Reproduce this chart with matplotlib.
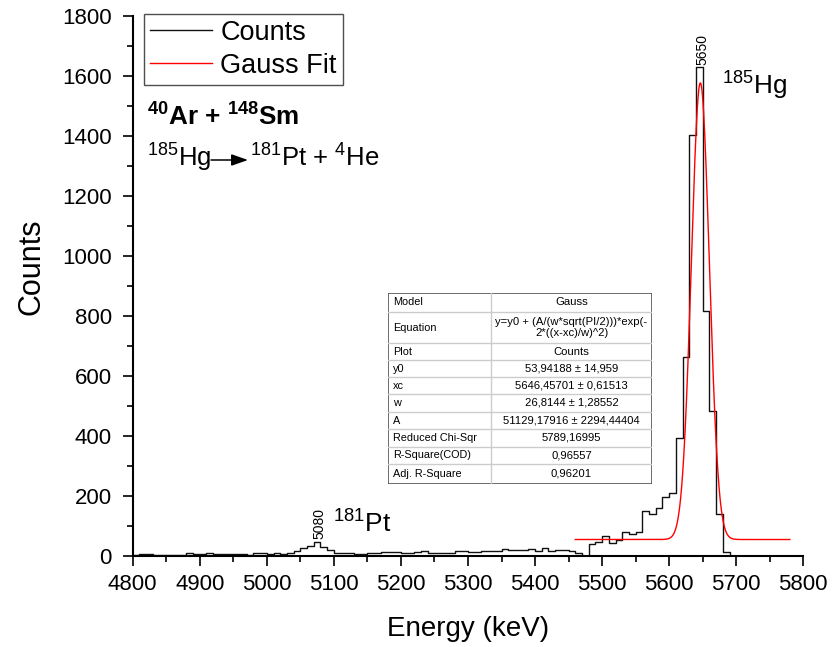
import numpy as np
import matplotlib
matplotlib.use("Agg")
import matplotlib.pyplot as plt
from matplotlib.ticker import MultipleLocator

plt.rcParams['font.family'] = ['Liberation Sans', 'DejaVu Sans']
plt.rcParams['mathtext.fontset'] = 'custom'
plt.rcParams['mathtext.rm'] = 'Liberation Sans'
plt.rcParams['mathtext.bf'] = 'Liberation Sans:bold'
plt.rcParams['mathtext.it'] = 'Liberation Sans:italic'

# ---- histogram data (upper bin edge in keV, counts) ----
energy = [4800, 4810, 4820, 4830, 4840, 4850, 4860, 4870, 4880, 4890,
          4900, 4910, 4920, 4930, 4940, 4950, 4960, 4970, 4980, 4990,
          5000, 5010, 5020, 5030, 5040, 5050, 5060, 5070, 5080, 5090,
          5100, 5110, 5120, 5130, 5140, 5150, 5160, 5170, 5180, 5190,
          5200, 5210, 5220, 5230, 5240, 5250, 5260, 5270, 5280, 5290,
          5300, 5310, 5320, 5330, 5340, 5350, 5360, 5370, 5380, 5390,
          5400, 5410, 5420, 5430, 5440, 5450, 5460, 5470, 5480, 5490,
          5500, 5510, 5520, 5530, 5540, 5550, 5560, 5570, 5580, 5590,
          5600, 5610, 5620, 5630, 5640, 5650, 5660, 5670, 5680, 5690,
          5700]
counts = [3, 3, 4, 5, 3, 3, 2, 3, 3, 10,
          4, 4, 10, 7, 5, 4, 4, 5, 3, 10,
          9, 5, 10, 6, 8, 15, 24, 33, 47, 30,
          18, 9, 10, 10, 6, 7, 10, 10, 12, 12,
          12, 9, 8, 12, 14, 9, 9, 8, 9, 14,
          14, 12, 12, 15, 14, 17, 21, 18, 18, 19,
          23, 16, 24, 16, 18, 18, 17, 9, 0, 39,
          47, 66, 41, 52, 80, 72, 78, 150, 139, 158,
          197, 210, 391, 663, 1402, 1628, 817, 483, 139, 13,
          0]

# ---- Gauss fit parameters ----
fit_y0 = 53.94188
fit_xc = 5646.45701
fit_w = 26.8144
fit_A = 51129.17916
fit_range = [5460, 5780]

table_labels = ["Model", "Equation", "Plot", "y0", "xc", "w", "A",
                "Reduced Chi-Sqr", "R-Square(COD)", "Adj. R-Square"]
table_values = ["Gauss", "y=y0 + (A/(w*sqrt(PI/2)))*exp(-\n2*((x-xc)/w)^2)",
                "Counts", "53,94188 ± 14,959", "5646,45701 ± 0,61513",
                "26,8144 ± 1,28552", "51129,17916 ± 2294,44404",
                "5789,16995", "0,96557", "0,96201"]

peak_labels = [(5650, 1628, "5650"), (5079, 47, "5080")]

W, H = 832, 647
fig = plt.figure(figsize=(W / 100, H / 100), dpi=100)
L, R, B, T = 132.7, 803.3, 555.7, 15.5
ax = fig.add_axes([L / W, 1 - B / H, (R - L) / W, (B - T) / H])

ax.step(energy, counts, where='pre', color='#111111', lw=1.0, label='Counts')
xf = np.linspace(fit_range[0], fit_range[1], 800)
yf = fit_y0 + fit_A / (fit_w * np.sqrt(np.pi / 2)) * np.exp(-2 * ((xf - fit_xc) / fit_w) ** 2)
ax.plot(xf, yf, color='red', lw=1.0, label='Gauss Fit')

ax.set_xlim(4800, 5800)
ax.set_ylim(0, 1800)
ax.xaxis.set_major_locator(MultipleLocator(100))
ax.xaxis.set_minor_locator(MultipleLocator(50))
ax.yaxis.set_major_locator(MultipleLocator(200))
ax.yaxis.set_minor_locator(MultipleLocator(100))
for s in ['top', 'right']:
    ax.spines[s].set_visible(False)
for s in ['left', 'bottom']:
    ax.spines[s].set_linewidth(1.5)
ax.tick_params(which='major', direction='out', length=7, width=1.2, labelsize=16, pad=6)
ax.tick_params(axis='y', which='major', pad=8)
ax.tick_params(which='minor', direction='out', length=4.5, width=1.2)
ax.set_xlabel('Energy (keV)', fontsize=20, labelpad=15)
ax.set_ylabel('Counts', fontsize=22)
ax.yaxis.set_label_coords((46 - L) / (R - L), (B - 267) / (B - T))

for x, y, t in peak_labels:
    ax.text(x, y + 8, t, rotation=90, ha='center', va='bottom', fontsize=10)

leg = ax.legend(loc='upper left', bbox_to_anchor=(144 / W, 1 - 14 / H),
                bbox_transform=fig.transFigure, fontsize=19.5, frameon=True,
                fancybox=False, borderaxespad=0, handlelength=2.3,
                handletextpad=0.3, borderpad=0.22, labelspacing=0.25)
leg.get_frame().set_edgecolor('#222222')
leg.get_frame().set_linewidth(1.0)

def fx(px):
    return px / W

def fy(py):
    return 1 - py / H

fig.text(fx(147), fy(117), r'$^{\mathbf{40}}$Ar + $^{\mathbf{148}}$Sm', fontsize=18.8,
         fontweight='bold', va='center', ha='left')
fig.text(fx(147), fy(158), r'$^{185}$Hg', fontsize=18.5, va='center', ha='left')
fig.text(fx(250), fy(158), r'$^{181}$Pt + $^{4}$He', fontsize=18.5, va='center', ha='left')
fig.add_artist(matplotlib.patches.FancyArrowPatch((fx(211), fy(160)), (fx(248), fy(160)),
               transform=fig.transFigure, arrowstyle='-|>,head_length=10,head_width=3.5',
               color='black', lw=1.1, mutation_scale=1, shrinkA=0, shrinkB=0))
fig.text(fx(722), fy(86), r'$^{185}$Hg', fontsize=18.8, va='center', ha='left')
fig.text(fx(333), fy(524), r'$^{181}$Pt', fontsize=19, va='center', ha='left')

# ---- fit results table ----
tx0, tx1, ty0, ty1 = 388, 652, 293, 484
tax = fig.add_axes([tx0 / W, 1 - ty1 / H, (tx1 - tx0) / W, (ty1 - ty0) / H])
tax.set_xlim(0, tx1 - tx0)
tax.set_ylim(ty1 - ty0, 0)
tax.axis('off')
tax.add_patch(plt.Rectangle((0, 0), tx1 - tx0, ty1 - ty0, facecolor='white',
                            edgecolor='#555555', lw=1.2))
row_h = [18.7, 31.6, 16.7, 17, 17, 17.7, 17.6, 17.4, 17.3, 19.3]
col_x = 103
ycur = 0
for i, (lab, val) in enumerate(zip(table_labels, table_values)):
    h = row_h[i]
    yc = ycur + h / 2
    tax.text(5, yc, lab, fontsize=7.8, va='center', ha='left')
    tax.text((col_x + tx1 - tx0) / 2, yc, val, fontsize=8.1, va='center', ha='center',
             linespacing=1.05)
    ycur += h
    if i < len(table_labels) - 1:
        tax.plot([0, tx1 - tx0], [ycur, ycur], color='#cccccc', lw=1.0)
tax.plot([col_x, col_x], [0, ty1 - ty0], color='#cccccc', lw=1.0)

fig.savefig('out.png', dpi=100)
